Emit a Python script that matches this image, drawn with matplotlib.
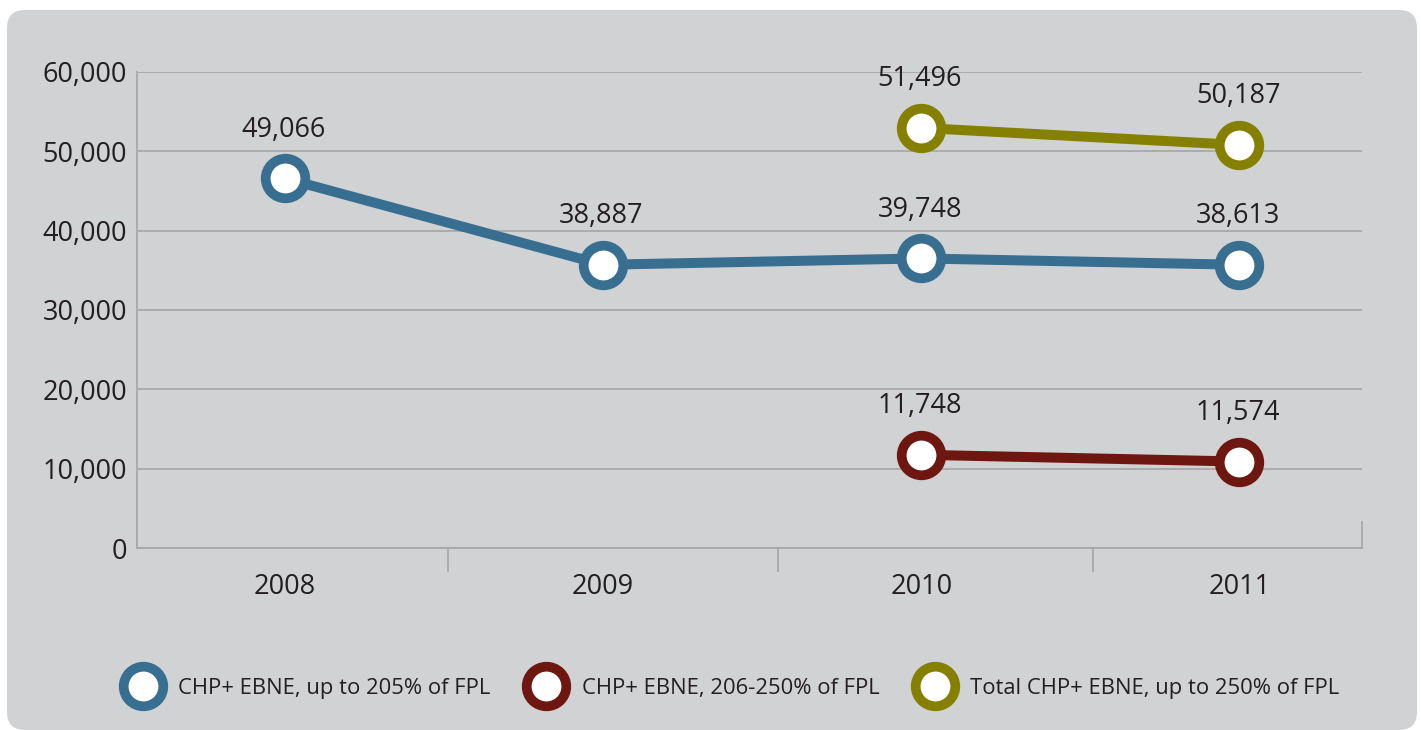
import matplotlib.pyplot as plt
from matplotlib.patches import FancyBboxPatch
from matplotlib.lines import Line2D
from matplotlib.ticker import FuncFormatter

years = ["2008", "2009", "2010", "2011"]

# plotted heights as drawn in the source, and the printed labels
low_vals = [46600, 35700, 36500, 35700]
low_labels = ["49,066", "38,887", "39,748", "38,613"]
mid_years = [2, 3]
mid_vals = [11750, 10900]
mid_labels = ["11,748", "11,574"]
total_vals = [52950, 50800]
total_labels = ["51,496", "50,187"]

series_names = ["CHP+ EBNE, up to 205% of FPL",
                "CHP+ EBNE, 206-250% of FPL",
                "Total CHP+ EBNE, up to 250% of FPL"]
colors = ["#386e90", "#6e1610", "#858000"]

bg = "#d1d2d4"
grid_c = "#a7a8aa"
text_c = "#231f20"
plt.rcParams["font.family"] = ["Open Sans", "DejaVu Sans"]

fig = plt.figure(figsize=(14.21, 7.30), dpi=100, facecolor="white")
panel = FancyBboxPatch((0.07, 0.0), 14.10, 7.20,
                       boxstyle="round,pad=0,rounding_size=0.18",
                       transform=fig.dpi_scale_trans, facecolor=bg,
                       edgecolor="none", zorder=-10)
fig.patches.append(panel)

ax = fig.add_axes([0.0964, 0.2493, 0.8621, 0.6521])
ax.set_facecolor("none")

x = list(range(len(years)))
ms, mew, lw = 28.5, 7, 7.2


def draw(xs, ys, labels, color):
    ax.plot(xs, ys, color=color, lw=lw, marker="o", ms=ms, mew=mew,
            mfc="white", mec=color, clip_on=False, zorder=3,
            solid_capstyle="butt")
    for xi, yi, lab in zip(xs, ys, labels):
        ax.annotate(lab, (xi, yi), xytext=(-1, 35), textcoords="offset points",
                    ha="center", va="center", fontsize=19.5, color=text_c)


draw(x, low_vals, low_labels, colors[0])
draw(mid_years, mid_vals, mid_labels, colors[1])
draw(mid_years, total_vals, total_labels, colors[2])

ax.set_xlim(-0.464, 3.385)
ax.set_ylim(0, 60000)
ax.set_yticks(range(0, 60001, 10000))
ax.yaxis.set_major_formatter(FuncFormatter(lambda v, p: f"{int(v):,}"))
ax.grid(axis="y", color=grid_c, lw=1.3)
ax.set_axisbelow(True)

ax.set_xticks(x)
ax.set_xticklabels(years)
ax.set_xticks([0.513, 1.55, 2.54], minor=True)
ax.tick_params(axis="x", which="major", length=0, pad=18, labelsize=19.5,
               labelcolor=text_c)
ax.tick_params(axis="x", which="minor", length=17, width=1.3, color=grid_c)
ax.tick_params(axis="y", length=0, pad=7, labelsize=19.5, labelcolor=text_c)

for s in ["top", "right"]:
    ax.spines[s].set_visible(False)
for s in ["left", "bottom"]:
    ax.spines[s].set_color(grid_c)
    ax.spines[s].set_linewidth(1.3)
ax.axvline(3.385, ymin=0, ymax=0.055, color=grid_c, lw=1.3, clip_on=False)

handles = [Line2D([], [], ls="none", marker="o", ms=ms, mew=mew, mfc="white",
                  mec=c) for c in colors]
leg = fig.legend(handles, series_names, loc="center",
                 bbox_to_anchor=(0.514, 0.0575), ncol=3, frameon=False,
                 fontsize=15.8, handlelength=2, handletextpad=0.6,
                 columnspacing=1.55, numpoints=1)
for t in leg.get_texts():
    t.set_color(text_c)

fig.savefig("out.png", dpi=100, facecolor="white")
